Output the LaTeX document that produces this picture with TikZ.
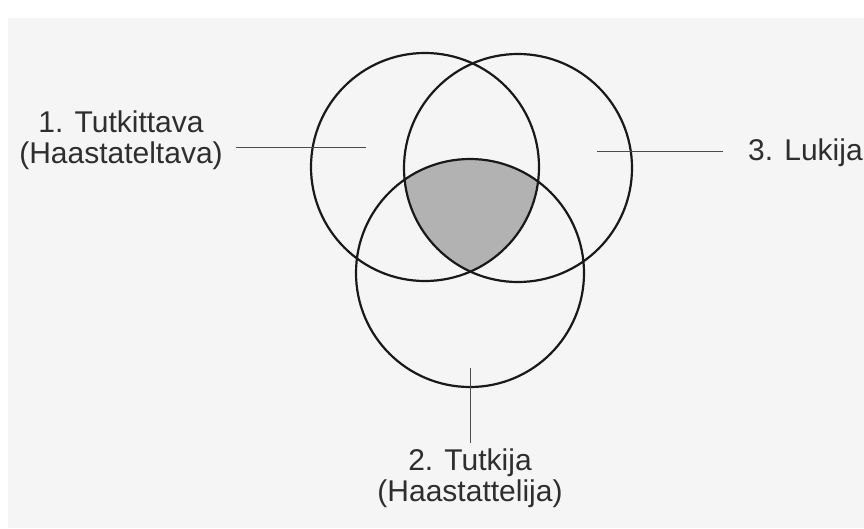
\documentclass[tikz,border=0pt]{standalone}
\usepackage{fontspec}
\setmainfont{Liberation Sans}
\usetikzlibrary{positioning,calc}

\begin{document}
\begin{tikzpicture}[
  x=1pt, y=-1pt,
  font=\fontsize{30}{31}\selectfont,
  label/.style={inner sep=0pt, align=center, text=black!82},
  ring/.style={draw=black!90, line width=2.2pt},
  lead/.style={draw=black!70, line width=0.9pt}
]
\useasboundingbox (0,0) rectangle (864,528);
\fill[black!4] (8,18) rectangle (864,528);
% circle centres
\coordinate (c1) at (425,167);
\coordinate (c2) at (470,273);
\coordinate (c3) at (518,168);
% shared part of all three
\begin{scope}
  \clip (c1) circle (114);
  \clip (c3) circle (114);
  \fill[black!30] (c2) circle (114);
\end{scope}
\draw[ring] (c1) circle (114);
\draw[ring] (c3) circle (114);
\draw[ring] (c2) circle (114);
% labels
\node[label, anchor=base] (tutkittava) at (121,163) {1. Tutkittava\\(Haastateltava)};
\node[label, anchor=base] (tutkija) at (470,501) {2. Tutkija\\(Haastattelija)};
\node[label, anchor=base west] (lukija) at (748,160) {3. Lukija};
\coordinate (in1) at (366,147);
\coordinate (in2) at (470,368);
\coordinate (in3) at (597,151);
\draw[lead, shorten <=13pt] (tutkittava.east |- in1) -- (in1);
\draw[lead, shorten >=25pt] (in3) -- (lukija.west |- in3);
\draw[lead, shorten >=5pt] (in2) -- (tutkija.north);
\end{tikzpicture}
\end{document}
